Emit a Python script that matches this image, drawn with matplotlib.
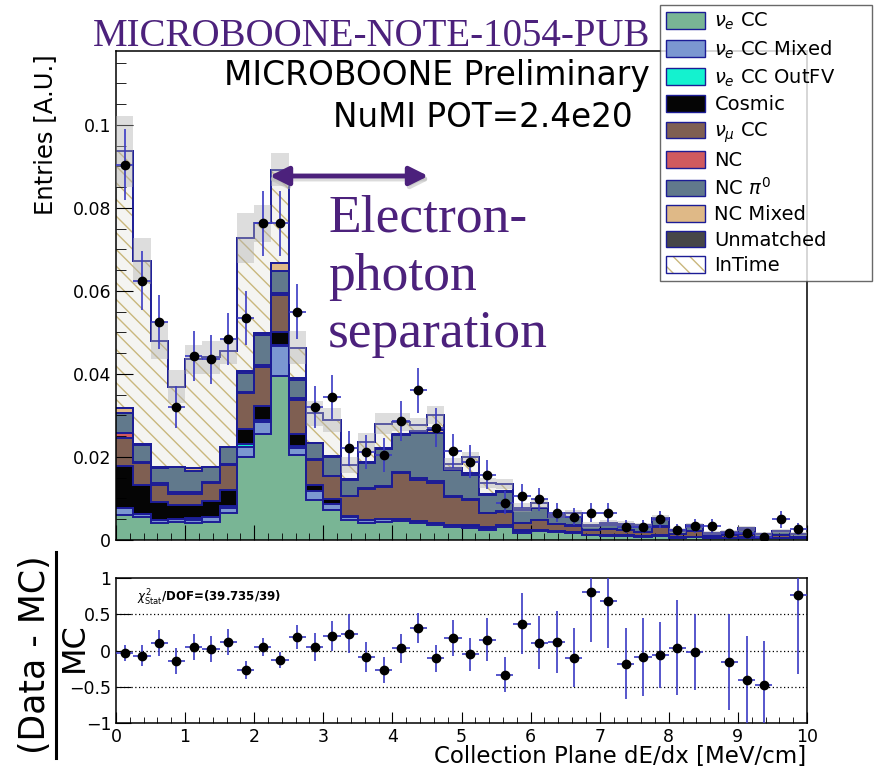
import numpy as np
import matplotlib
matplotlib.use('Agg')
import matplotlib.pyplot as plt
from matplotlib.patches import Patch
from matplotlib.legend_handler import HandlerTuple
from matplotlib.ticker import MultipleLocator, FuncFormatter

plt.rcParams['font.family'] = ['DejaVu Sans']
plt.rcParams['hatch.linewidth'] = 1.0

W, H = 877, 770
def fx(x): return x / W
def fy(y): return 1 - y / H

edges = np.linspace(0, 10, 41)
centers = 0.5 * (edges[1:] + edges[:-1])

# stacked MC components, one value per 0.25 MeV/cm bin
nue_cc = [.0060, .0055, .0040, .0044, .0040, .0044, .0064, .0201, .0255, .0395,
          .0205, .0096, .0072, .0048, .0042, .0044, .0045, .0040, .0035, .0032,
          .0028, .0025, .0032, .0018, .0022, .0020, .0018, .0012, .0010, .0010,
          .0008, .0010, .0006, .0007, .0004, .0005, .0006, .0004, .0005, .0004]
nue_mixed = [.0016, .0007, .0007, .0006, .0007, .0011, .0012, .0022, .0030, .0072,
             .0016, .0022, .0015, .0008, .0006, .0006, .0005, .0005, .0005, .0004,
             .0006, .0005, .0004, .0004, .0002, .0002, .0002, .0001, .0002, .0002,
             .0001, .0002, .0001, .0001, .0001, .0001, .0001, .0000, .0001, .0000]
nue_outfv = [.0000, .0000, .0000, .0000, .0006, .0001, .0006, .0008, .0004, .0002,
             .0005, .0000, .0000, .0000, .0000, .0000, .0000, .0000, .0000, .0000,
             .0000, .0000, .0000, .0000, .0000, .0000, .0000, .0000, .0000, .0000,
             .0000, .0000, .0000, .0000, .0000, .0000, .0000, .0000, .0000, .0000]
cosmic = [.0102, .0071, .0045, .0034, .0031, .0039, .0038, .0036, .0034, .0031,
          .0029, .0015, .0011, .0002, .0001, .0001, .0001, .0001, .0001, .0001,
          .0001, .0001, .0001, .0001, .0000, .0000, .0000, .0000, .0000, .0000,
          .0000, .0000, .0000, .0000, .0000, .0000, .0000, .0000, .0000, .0000]
numu_cc = [.0067, .0053, .0041, .0028, .0028, .0042, .0061, .0086, .0093, .0090,
           .0082, .0060, .0055, .0048, .0075, .0077, .0110, .0099, .0096, .0066,
           .0061, .0033, .0031, .0017, .0024, .0016, .0014, .0010, .0014, .0012,
           .0010, .0020, .0007, .0013, .0004, .0005, .0007, .0004, .0006, .0004]
nc = [.0012, .0002, .0005, .0004, .0004, .0003, .0003, .0004, .0006, .0004,
      .0004, .0002, .0001, .0001, .0002, .0003, .0004, .0004, .0004, .0002,
      .0002, .0002, .0003, .0001, .0001, .0001, .0001, .0000, .0001, .0000,
      .0000, .0001, .0000, .0000, .0000, .0000, .0000, .0000, .0000, .0000]
nc_pi0 = [.0048, .0041, .0035, .0059, .0051, .0035, .0039, .0045, .0072, .0054,
          .0045, .0038, .0047, .0038, .0059, .0088, .0088, .0108, .0116, .0064,
          .0059, .0042, .0045, .0031, .0027, .0017, .0020, .0010, .0010, .0012,
          .0012, .0014, .0008, .0011, .0006, .0007, .0010, .0006, .0009, .0006]
nc_mixed = [.0012, .0002, .0002, .0002, .0006, .0002, .0002, .0005, .0004, .0019,
            .0004, .0001, .0001, .0001, .0002, .0003, .0003, .0006, .0008, .0005,
            .0004, .0002, .0002, .0001, .0001, .0001, .0001, .0001, .0001, .0001,
            .0001, .0001, .0000, .0001, .0000, .0000, .0001, .0000, .0000, .0000]
unmatched = [0.0] * 40
intime = [.0619, .0441, .0305, .0192, .0262, .0263, .0230, .0321, .0265, .0225,
          .0073, .0071, .0087, .0035, .0048, .0058, .0029, .0014, .0037, .0009,
          .0038, .0027, .0016, .0005, .0011, .0003, .0008, .0002, .0002, .0002,
          .0003, .0005, .0001, .0002, .0001, .0001, .0003, .0001, .0001, .0001]
mc_err = [.0085, .0055, .0045, .0040, .0035, .0040, .0030, .0060, .0045, .0040,
          .0040, .0030, .0028, .0020, .0022, .0025, .0022, .0018, .0022, .0015,
          .0014, .0012, .0012, .0010, .0010, .0008, .0008, .0007, .0007, .0007,
          .0007, .0008, .0006, .0007, .0005, .0005, .0006, .0005, .0005, .0005]

data = [.0904, .0624, .0525, .0321, .0444, .0436, .0484, .0534, .0763, .0763,
        .0550, .0321, .0345, .0221, .0213, .0205, .0287, .0361, .0271, .0214,
        .0189, .0157, .0090, .0106, .0098, .0066, .0056, .0066, .0066, .0032,
        .0032, .0050, .0024, .0034, .0034, .0016, .0016, .0008, .0050, .0026]
data_err = [.0085, .0071, .0065, .0051, .0060, .0059, .0062, .0065, .0078, .0078,
            .0066, .0051, .0053, .0042, .0041, .0041, .0048, .0054, .0047, .0041,
            .0039, .0035, .0027, .0029, .0028, .0023, .0021, .0023, .0023, .0016,
            .0016, .0020, .0014, .0017, .0017, .0011, .0011, .0008, .0020, .0014]

ratio = [-0.03, -0.07, 0.10, -0.14, 0.05, 0.02, 0.12, -0.27, 0.05, -0.13,
         0.19, 0.05, 0.20, 0.23, -0.09, -0.27, 0.03, 0.31, -0.11, 0.17,
         -0.055, 0.15, -0.335, 0.37, 0.11, 0.12, -0.10, 0.81, 0.68, -0.18,
         -0.09, -0.06, 0.04, -0.02, np.nan, -0.16, -0.40, -0.47, np.nan, 0.77]
ratio_err = [0.11, 0.14, 0.18, 0.18, 0.18, 0.18, 0.18, 0.12, 0.125, 0.11,
             0.165, 0.19, 0.21, 0.27, 0.21, 0.18, 0.20, 0.21, 0.18, 0.25,
             0.23, 0.30, 0.24, 0.42, 0.36, 0.43, 0.41, 0.69, 0.64, 0.49,
             0.54, 0.46, 0.65, 0.53, np.nan, 0.66, 0.60, 0.60, np.nan, 1.10]

navy = '#1c1c96'
purple = '#4c217c'
hatch_col = '#c9b77d'
err_blue = '#3a3ac4'

layers = [
    (r'$\nu_{e}$ CC', nue_cc, '#79b595'),
    (r'$\nu_{e}$ CC Mixed', nue_mixed, '#7b97d1'),
    (r'$\nu_{e}$ CC OutFV', nue_outfv, '#14f2cf'),
    ('Cosmic', cosmic, '#050505'),
    (r'$\nu_{\mu}$ CC', numu_cc, '#7f5f52'),
    ('NC', nc, '#d05a5f'),
    (r'NC $\pi^{0}$', nc_pi0, '#61798c'),
    ('NC Mixed', nc_mixed, '#dfb987'),
    ('Unmatched', unmatched, '#474747'),
    ('InTime', intime, None),
]

fig = plt.figure(figsize=(W / 100, H / 100), dpi=100)
ax = fig.add_axes([fx(116), fy(540), fx(807) - fx(116), fy(51) - fy(540)])
ax2 = fig.add_axes([fx(116), fy(723), fx(807) - fx(116), fy(578) - fy(723)])

# stack
cum = np.zeros(40)
for label, vals, col in layers:
    top = cum + np.array(vals)
    if col is None:
        ax.stairs(top, edges, baseline=cum, fill=True, facecolor='#f4f4f1',
                  edgecolor=hatch_col, hatch='\\\\', linewidth=0, zorder=1)
    else:
        ax.stairs(top, edges, baseline=cum, fill=True, facecolor=col,
                  linewidth=0, zorder=1)
    ax.stairs(top, edges, baseline=None, color=navy, linewidth=1.4, zorder=2)
    cum = top
total = cum

# MC uncertainty
mc_err = np.array(mc_err)
ax.bar(centers, 2 * mc_err, bottom=total - mc_err, width=0.25, color='#b0b0b0',
       alpha=0.42, linewidth=0, zorder=3)

ax.errorbar(centers, data, yerr=data_err, xerr=0.125, fmt='o', color='black',
            ms=6, ecolor=err_blue, elinewidth=1.2, capsize=0, zorder=5)

ax.set_xlim(0, 10)
ax.set_ylim(0, 0.1178)
ax.xaxis.set_major_locator(MultipleLocator(1))
ax.xaxis.set_minor_locator(MultipleLocator(0.2))
ax.yaxis.set_major_locator(MultipleLocator(0.02))
ax.yaxis.set_minor_locator(MultipleLocator(0.005))
ax.yaxis.set_major_formatter(FuncFormatter(lambda v, p: f'{v:g}'))
ax.tick_params(axis='x', which='both', direction='in', labelbottom=False)
ax.tick_params(axis='x', which='major', length=10.5)
ax.tick_params(axis='x', which='minor', length=5)
ax.tick_params(axis='y', which='major', direction='in', length=12, labelsize=12.5)
ax.tick_params(axis='y', which='minor', direction='in', length=7)
for sp in ax.spines.values():
    sp.set_linewidth(1.1)

# ratio panel
for v in (0.5, 0, -0.5):
    ax2.axhline(v, color='black', ls=(0, (1, 2)), lw=0.9, zorder=1)
ax2.errorbar(centers, ratio, yerr=ratio_err, xerr=0.125, fmt='o', color='black',
             ms=6, ecolor=err_blue, elinewidth=1.2, capsize=0, zorder=5)
ax2.set_xlim(0, 10)
ax2.set_ylim(-1, 1)
ax2.xaxis.set_major_locator(MultipleLocator(1))
ax2.xaxis.set_minor_locator(MultipleLocator(0.2))
ax2.yaxis.set_major_locator(MultipleLocator(0.5))
ax2.yaxis.set_major_formatter(FuncFormatter(lambda v, p: f'{v:g}'.replace('-', '\u2212')))
ax2.xaxis.set_major_formatter(FuncFormatter(lambda v, p: f'{v:g}'))
ax2.tick_params(axis='x', which='major', direction='in', length=8, labelsize=12.5)
ax2.tick_params(axis='x', which='minor', direction='in', length=4)
ax2.tick_params(axis='y', which='major', direction='in', length=11, labelsize=12.5)
for sp in ax2.spines.values():
    sp.set_linewidth(1.1)

ax2.text(0.03, 0.86, r'$\chi^{2}_{\mathrm{Stat}}$/DOF=(39.735/39)',
         transform=ax2.transAxes, fontsize=8.5, fontweight='bold', va='center')

# axis titles
fig.text(fx(45), fy(54), 'Entries [A.U.]', rotation=90, ha='center', va='top',
         fontsize=17.5)
fig.text(fx(806), fy(763), 'Collection Plane dE/dx [MeV/cm]', ha='right',
         va='baseline', fontsize=16.5)
fig.text(fx(35), fy(655), '(Data - MC)', rotation=90, ha='center', va='center',
         fontsize=25)
fig.text(fx(74), fy(647), 'MC', rotation=90, ha='center', va='center',
         fontsize=23)
fig.add_artist(plt.Line2D([fx(56), fx(56)], [fy(758), fy(552)],
                          color='black', lw=2.2))

# labels on the plot
fig.text(fx(650), fy(85), 'MICROBOONE Preliminary', ha='right', va='baseline',
         fontsize=23.7)
fig.text(fx(633), fy(127), 'NuMI POT=2.4e20', ha='right', va='baseline',
         fontsize=23.5)
fig.text(fx(93), fy(46), 'MICROBOONE-NOTE-1054-PUB', ha='left', va='baseline',
         fontsize=28, color=purple, family='Liberation Serif')
for txt, yb in (('Electron-', 232), ('photon', 290), ('separation', 347)):
    fig.text(fx(328), fy(yb), txt, ha='left', va='baseline', fontsize=38.5,
             color=purple, family='Liberation Serif')
ax.annotate('', xy=(fx(433), fy(179)), xytext=(fx(265), fy(179)),
            xycoords='figure fraction', textcoords='figure fraction',
            arrowprops=dict(arrowstyle='<|-|>', color='#b8b8b8', lw=3.5,
                            mutation_scale=28, alpha=0.5))
ax.annotate('', xy=(fx(431), fy(176)), xytext=(fx(267), fy(176)),
            xycoords='figure fraction', textcoords='figure fraction',
            arrowprops=dict(arrowstyle='<|-|>', color=purple, lw=3.5,
                            mutation_scale=28))

# legend
handles = []
labels = []
for label, vals, col in layers:
    if col is None:
        h = (Patch(facecolor='white', edgecolor=hatch_col, hatch='\\\\', linewidth=0),
             Patch(fill=False, edgecolor=navy, linewidth=1))
    else:
        h = Patch(facecolor=col, edgecolor=navy, linewidth=1)
    handles.append(h)
    labels.append(label)
leg = fig.legend(handles, labels, loc='upper left',
                 bbox_to_anchor=(fx(660), fy(282), fx(872) - fx(660), fy(5) - fy(282)),
                 bbox_transform=fig.transFigure, mode='expand',
                 fontsize=14, frameon=True, fancybox=False, edgecolor='#444444',
                 handlelength=2.0, handleheight=0.95, handletextpad=0.5,
                 labelspacing=0.33, borderpad=0.3, borderaxespad=0,
                 handler_map={tuple: HandlerTuple(ndivide=1, pad=0)})
leg.get_frame().set_linewidth(1.0)
leg.set_zorder(10)

fig.savefig('out.png', dpi=100)
